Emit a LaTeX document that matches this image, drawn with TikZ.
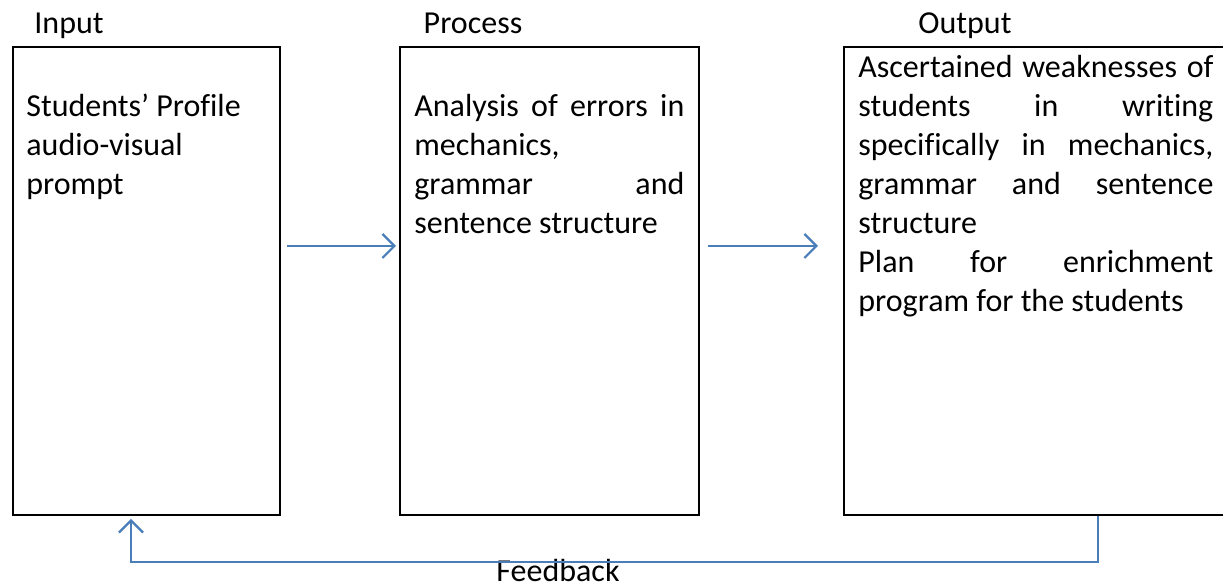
\documentclass[tikz,border=0pt]{standalone}
\usepackage{fontspec}
\setmainfont{Carlito}[RawFeature={-liga;-clig;-calt;-dlig}]
\usetikzlibrary{arrows.meta,positioning,calc}
\definecolor{flowblue}{HTML}{4A7EBB}
\hyphenpenalty=10000
\exhyphenpenalty=10000

\begin{document}
\begin{tikzpicture}[x=0.5pt,y=-0.5pt,
	box/.style={draw,line width=1pt,minimum height=234pt,inner sep=0pt,anchor=north west},
	boxtext/.style={anchor=base west,inner sep=0pt,align=justify,font=\fontsize{16pt}{19.5pt}\selectfont},
	title/.style={anchor=base,inner sep=0pt,font=\fontsize{16pt}{19.5pt}\selectfont},
	flow/.style={line width=1.1pt,flowblue,-{Straight Barb[length=6pt,width=12pt]}}]
	\useasboundingbox (0,0) rectangle (1223,587);
	\node[box,minimum width=133.5pt] (inbox) at (12,46) {};
	\node[box,minimum width=149.5pt] (procbox) at (399,46) {};
	\node[box,minimum width=195pt] (outbox) at (843,46) {};
	\node[title] (intitle) at (69,34) {Input};
	\node[title] (proctitle) at (473,34) {Process};
	\node[title] (outtitle) at (965,34) {Output};
	\node[title] (fbtitle) at (558,582) {Feedback};
	\node[boxtext,text width=120pt] (intext) at (26,117)
		{Students’ Profile\newline audio-visual\newline prompt};
	\node[boxtext,text width=135pt] (proctext) at (414,117)
		{Analysis of errors in\linebreak mechanics,\newline grammar and\linebreak sentence structure};
	\node[boxtext,text width=177.5pt] (outtext) at (858,78)
		{Ascertained weaknesses of\linebreak students in writing\linebreak specifically in mechanics,\linebreak grammar and sentence\linebreak structure\newline Plan for enrichment\linebreak program for the students};
	\draw[flow,shorten <=3pt,shorten >=1.5pt] ([yshift=17.5pt]inbox.east) -- ([yshift=17.5pt]procbox.west);
	\draw[flow,shorten <=4pt,shorten >=12.5pt] ([yshift=17.5pt]procbox.east) -- ([yshift=17.5pt]outbox.west);
	\draw[flow,shorten >=1.5pt] ([xshift=29.5pt]outbox.south) -- ++(0,46) -| ([xshift=-7.75pt]inbox.south);
\end{tikzpicture}
\end{document}
